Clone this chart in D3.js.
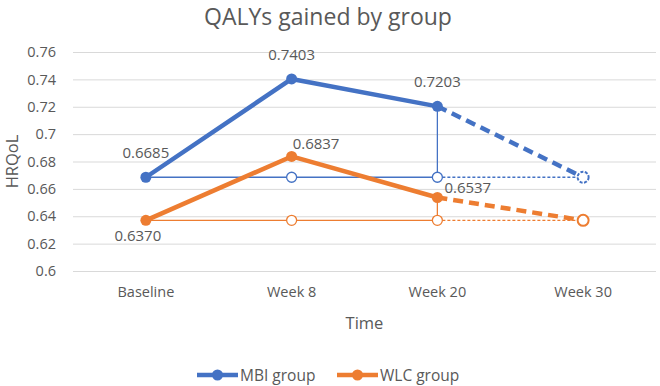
<!DOCTYPE html>
<html><head><meta charset="utf-8">
<script src="https://cdn.jsdelivr.net/npm/d3@7"></script>
<style>body{margin:0;background:#fff}svg{display:block}text{font-family:"Open Sans",sans-serif;fill:#595959}</style>
</head><body>
<svg id="c" width="660" height="386"></svg>
<script>
const categories = ["Baseline", "Week 8", "Week 20", "Week 30"];
const mbi = [0.6685, 0.7403, 0.7203];
const wlc = [0.6370, 0.6837, 0.6537];
const mbiProjected = 0.6685;
const wlcProjected = 0.6370;
const mbiBaseline = [0.6685, 0.6685, 0.6685, 0.6685];
const wlcBaseline = [0.6370, 0.6370, 0.6370, 0.6370];
const yTicks = [0.6, 0.62, 0.64, 0.66, 0.68, 0.7, 0.72, 0.74, 0.76];
const seriesNames = ["MBI group", "WLC group"];

const BLUE = "#4472C4", ORANGE = "#ED7D31";
const svg = d3.select("#c");
const L = 73, R = 656, T = 52, B = 271;
const x = d3.scaleBand().domain(categories).range([L, R]);
const cx = c => x(c) + x.bandwidth() / 2;
const y = d3.scaleLinear().domain([0.6, 0.76]).range([B, T]);

// title
svg.append("text").attr("x", 328).attr("y", 25).attr("text-anchor", "middle")
  .style("font-size", "23px").text("QALYs gained by group");

// grid + y axis
const yAxis = d3.axisLeft(y).tickValues(yTicks).tickSize(-(R - L)).tickPadding(17)
  .tickFormat(d => String(+d.toFixed(2)));
const ga = svg.append("g").attr("transform", `translate(${L},0)`).call(yAxis);
ga.select(".domain").remove();
ga.selectAll(".tick line").attr("stroke", "#d9d9d9").attr("stroke-width", 1);
ga.selectAll(".tick text").style("font-size", "14.5px").attr("fill", "#595959");

// x axis labels
const xAxis = d3.axisBottom(x).tickSize(0).tickPadding(16);
const gx = svg.append("g").attr("transform", `translate(0,${B})`).call(xAxis);
gx.select(".domain").remove();
gx.selectAll(".tick text").style("font-size", "14.5px").attr("fill", "#595959");

// axis titles
svg.append("text").attr("x", (L + R) / 2).attr("y", 329).attr("text-anchor", "middle")
  .style("font-size", "16.5px").text("Time");
svg.append("text").attr("transform", `translate(18,${(T + B) / 2}) rotate(-90)`)
  .attr("text-anchor", "middle").style("font-size", "16.5px").text("HRQoL");

function drawGroup(vals, base, proj, color, projDash) {
  const g = svg.append("g");
  const line = d3.line().x(d => cx(d[0])).y(d => y(d[1]));
  // thin baseline (solid to Week 20, dashed to Week 30)
  g.append("path").attr("d", line(categories.slice(0, 3).map((c, i) => [c, base[i]])))
    .attr("fill", "none").attr("stroke", color).attr("stroke-width", 1.3);
  g.append("path").attr("d", line([[categories[2], base[2]], [categories[3], base[3]]]))
    .attr("fill", "none").attr("stroke", color).attr("stroke-width", 1.3).attr("stroke-dasharray", "3,2");
  // vertical drop at Week 20
  g.append("line").attr("x1", cx(categories[2])).attr("x2", cx(categories[2]))
    .attr("y1", y(base[2])).attr("y2", y(vals[2])).attr("stroke", color).attr("stroke-width", 1.3);
  // open circles on baseline
  [1, 2].forEach(i => g.append("circle").attr("cx", cx(categories[i])).attr("cy", y(base[i])).attr("r", 5)
    .attr("fill", "#fff").attr("stroke", color).attr("stroke-width", 1.3));
  // main thick line
  g.append("path").attr("d", line(vals.map((v, i) => [categories[i], v])))
    .attr("fill", "none").attr("stroke", color).attr("stroke-width", 4.5).attr("stroke-linejoin", "round");
  g.append("path").attr("d", line([[categories[2], vals[2]], [categories[3], proj]]))
    .attr("fill", "none").attr("stroke", color).attr("stroke-width", 4.5).attr("stroke-dasharray", "10,6");
  // projected marker
  g.append("circle").attr("cx", cx(categories[3])).attr("cy", y(proj)).attr("r", 5.5)
    .attr("fill", "#fff").attr("stroke", color).attr("stroke-width", 2)
    .attr("stroke-dasharray", projDash ? "3,1.5" : null);
  vals.forEach((v, i) => g.append("circle").attr("cx", cx(categories[i])).attr("cy", y(v)).attr("r", 5.5)
    .attr("fill", color));
}
drawGroup(mbi, mbiBaseline, mbiProjected, BLUE, true);
drawGroup(wlc, wlcBaseline, wlcProjected, ORANGE, false);

// data labels
const fmt = d3.format(".4f");
const lab = (v, c, dx, dy, anchor) => svg.append("text").attr("x", cx(c) + dx).attr("y", y(v) + dy)
  .attr("text-anchor", anchor).style("font-size", "15px").attr("fill", "#404040").text(fmt(v));
lab(mbi[0], categories[0], 0, -19, "middle");
lab(mbi[1], categories[1], 0, -19, "middle");
lab(mbi[2], categories[2], 0, -19, "middle");
lab(wlc[0], categories[0], -8, 21, "middle");
lab(wlc[1], categories[1], 1, -7, "start");
lab(wlc[2], categories[2], 7, -4, "start");

// legend
const lg = svg.append("g");
[[197, BLUE, seriesNames[0]], [337, ORANGE, seriesNames[1]]].forEach(([lx, col, name]) => {
  lg.append("line").attr("x1", lx).attr("x2", lx + 41).attr("y1", 375).attr("y2", 375)
    .attr("stroke", col).attr("stroke-width", 4.5);
  lg.append("circle").attr("cx", lx + 20.5).attr("cy", 375).attr("r", 5.5).attr("fill", col);
  lg.append("text").attr("x", lx + 43).attr("y", 380.5).style("font-size", "15.5px").text(name);
});
</script>
</body></html>
